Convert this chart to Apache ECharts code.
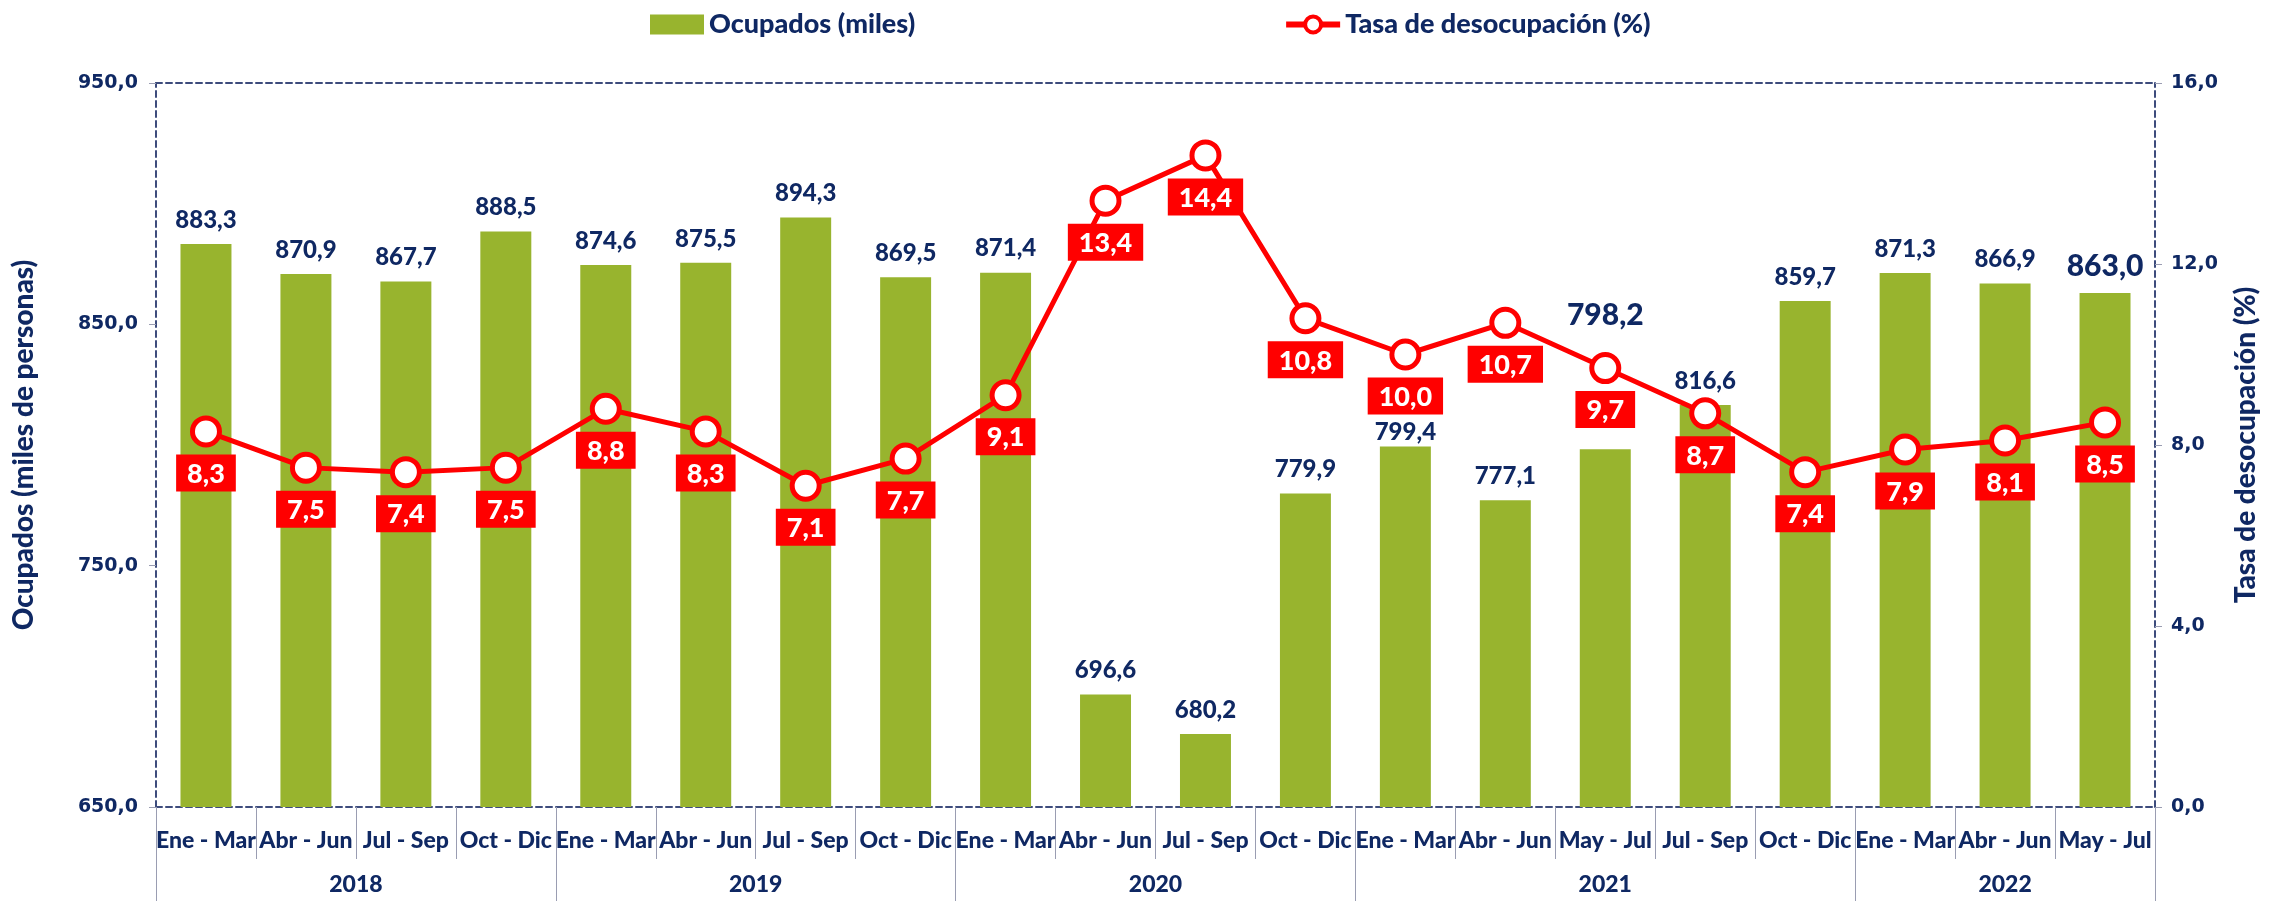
<!DOCTYPE html>
<html>
<head>
<meta charset="utf-8">
<title>Ocupados y tasa de desocupación</title>
<script src="https://cdn.jsdelivr.net/npm/echarts@6/dist/echarts.min.js"></script>
</head>
<body style="margin:0;background:#fff;">
<div id="main" style="width:2283px;height:901px;"></div>
<script type="text/javascript">
// datos
var trimestres = ['Ene - Mar', 'Abr - Jun', 'Jul - Sep', 'Oct - Dic',
  'Ene - Mar', 'Abr - Jun', 'Jul - Sep', 'Oct - Dic',
  'Ene - Mar', 'Abr - Jun', 'Jul - Sep', 'Oct - Dic',
  'Ene - Mar', 'Abr - Jun', 'May - Jul', 'Jul - Sep', 'Oct - Dic',
  'Ene - Mar', 'Abr - Jun', 'May - Jul'];
var anios = ['2018', '2019', '2020', '2021', '2022'];
var trimestresPorAnio = [4, 4, 4, 5, 3];
var ocupados = [883.3, 870.9, 867.7, 888.5, 874.6, 875.5, 894.3, 869.5, 871.4, 696.6,
  680.2, 779.9, 799.4, 777.1, 798.2, 816.6, 859.7, 871.3, 866.9, 863.0];
var tasaDesocupacion = [8.3, 7.5, 7.4, 7.5, 8.8, 8.3, 7.1, 7.7, 9.1, 13.4,
  14.4, 10.8, 10.0, 10.7, 9.7, 8.7, 7.4, 7.9, 8.1, 8.5];

// etiquetas de barras con tamaño / separación propios
var etiquetasGrandes = [14, 19];
var distanciaEtiqueta = { 12: 2, 14: 119 };

var navy = '#0f2863';
var verde = '#98b42e';
var rojo = '#ff0000';
var fNarrow = 'Lato, "Noto Sans", sans-serif';
var fAxis = '"DejaVu Sans", Verdana, sans-serif';
var peso = 900;

function coma(v) { return Number(v).toFixed(1).replace('.', ','); }

// eje de años: medias posiciones (41 puntos), etiqueta al centro de cada año
var mitades = [], limites = {}, centros = {};
var acc = 0;
limites[0] = true;
for (var i = 0; i < anios.length; i++) {
  centros[acc + trimestresPorAnio[i]] = anios[i];
  acc += trimestresPorAnio[i] * 2;
  limites[acc] = true;
}
for (var j = 0; j <= trimestres.length * 2; j++) {
  mitades.push(centros[j] || '');
}

var myChart = echarts.init(document.getElementById('main'));
var dashed = { show: true, lineStyle: { color: '#3d4c7c', width: 2, type: [6, 4] } };

myChart.setOption({
  animation: false,
  legend: {
    top: 6,
    left: 645,
    itemGap: 368,
    itemWidth: 54,
    itemHeight: 20,
    textStyle: { color: navy, fontSize: 27, fontWeight: peso, fontFamily: fNarrow },
    data: [
      { name: 'Ocupados (miles)', icon: 'rect' },
      { name: 'Tasa de desocupación (%)', itemStyle: { borderWidth: 4 }, lineStyle: { width: 6 } }
    ]
  },
  grid: { left: 156, right: 128, top: 83, bottom: 94, outerBoundsMode: 'none' },
  xAxis: [{
    type: 'category',
    position: 'bottom',
    data: trimestres,
    axisLine: dashed,
    axisTick: { show: true, length: 52, lineStyle: { color: '#9a9db2', width: 1 } },
    axisLabel: {
      interval: 0, margin: 22, color: navy, fontSize: 23, fontWeight: peso, fontFamily: fNarrow
    }
  }, {
    type: 'category',
    position: 'bottom',
    boundaryGap: false,
    data: mitades,
    axisLine: { show: false },
    axisTick: {
      show: true, length: 94,
      interval: function (idx) { return !!limites[idx]; },
      lineStyle: { color: '#9a9db2', width: 1 }
    },
    axisLabel: {
      interval: function (idx, val) { return val !== ''; },
      margin: 66, color: navy, fontSize: 23, fontWeight: peso, fontFamily: fNarrow
    }
  }, {
    type: 'category',
    position: 'top',
    data: trimestres,
    axisLine: dashed,
    axisTick: { show: false },
    axisLabel: { show: false }
  }],
  yAxis: [{
    type: 'value',
    position: 'left',
    min: 650, max: 950, interval: 100,
    name: 'Ocupados (miles de personas)',
    nameLocation: 'middle',
    nameGap: 118,
    nameTextStyle: { color: navy, fontSize: 28, fontWeight: peso, fontFamily: fNarrow },
    axisLine: dashed,
    axisTick: { show: true, length: 7, lineStyle: { color: '#9a9db2' } },
    splitLine: { show: false },
    axisLabel: { formatter: coma, margin: 18, color: navy, fontSize: 19, fontWeight: 'bold', fontFamily: fAxis }
  }, {
    type: 'value',
    position: 'right',
    min: 0, max: 16, interval: 4,
    name: 'Tasa de desocupación (%)',
    nameLocation: 'middle',
    nameGap: 77,
    nameTextStyle: { color: navy, fontSize: 28, fontWeight: peso, fontFamily: fNarrow },
    axisLine: dashed,
    axisTick: { show: true, length: 7, lineStyle: { color: '#9a9db2' } },
    splitLine: { show: false },
    axisLabel: { formatter: coma, margin: 16, color: navy, fontSize: 19, fontWeight: 'bold', fontFamily: fAxis }
  }],
  series: [{
    name: 'Ocupados (miles)',
    type: 'bar',
    xAxisIndex: 0,
    yAxisIndex: 0,
    barWidth: '51%',
    itemStyle: { color: verde },
    label: {
      show: true, position: 'top', distance: 12,
      formatter: function (p) { return coma(p.value); },
      color: navy, fontSize: 24, fontWeight: peso, fontFamily: fNarrow
    },
    data: ocupados.map(function (v, i) {
      var lab = {};
      if (etiquetasGrandes.indexOf(i) >= 0) lab.fontSize = 30;
      if (distanciaEtiqueta[i] !== undefined) lab.distance = distanciaEtiqueta[i];
      return { value: v, label: lab };
    })
  }, {
    name: 'Tasa de desocupación (%)',
    type: 'line',
    xAxisIndex: 0,
    yAxisIndex: 1,
    symbol: 'circle',
    symbolSize: 27,
    z: 5,
    lineStyle: { color: rojo, width: 5 },
    itemStyle: { color: '#fff', borderColor: rojo, borderWidth: 5 },
    label: {
      show: true, position: 'bottom', distance: 7,
      formatter: function (p) { return coma(p.value); },
      backgroundColor: rojo, color: '#fff', padding: [6, 11, 4, 11],
      fontSize: 27, fontWeight: peso, fontFamily: fNarrow
    },
    data: tasaDesocupacion
  }]
});
</script>
</body>
</html>
